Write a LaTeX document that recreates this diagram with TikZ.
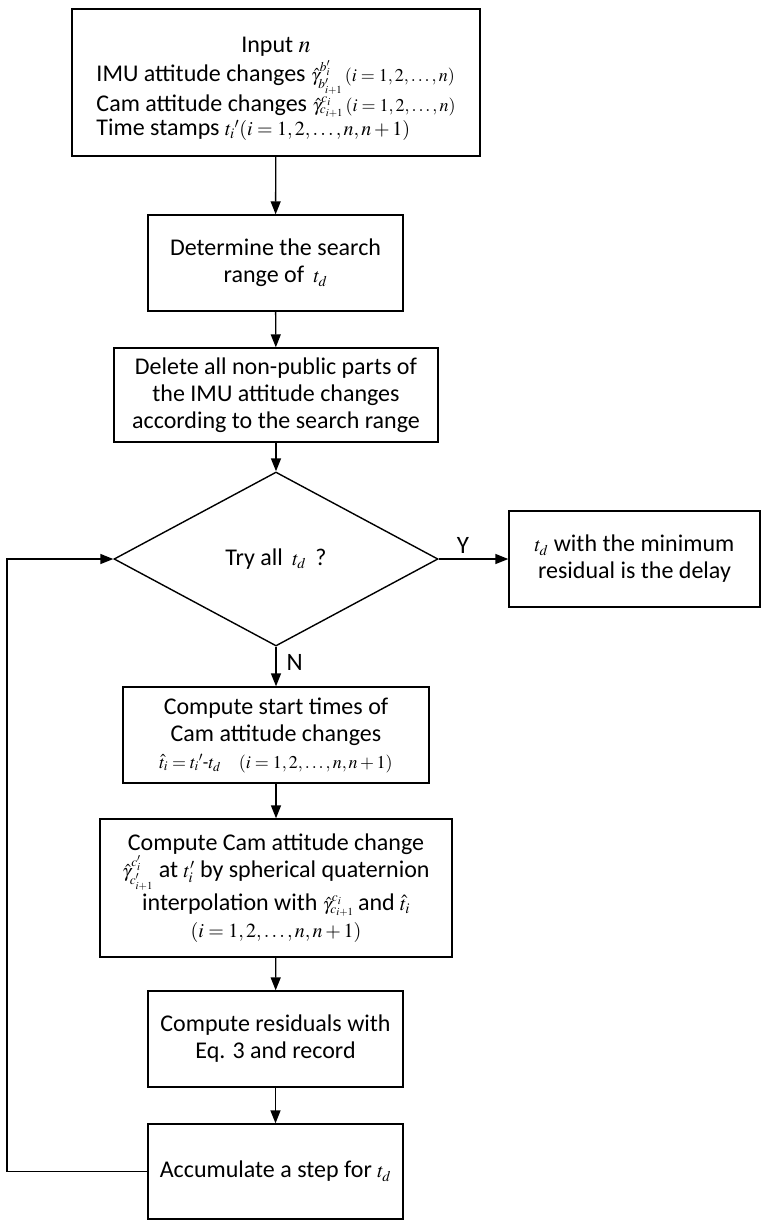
\documentclass[tikz,border=0pt]{standalone}
\usepackage{mathptmx}
\usepackage{fontspec}
\setmainfont{Carlito}
\usetikzlibrary{arrows.meta,shapes.geometric}

\newcommand{\eqsize}{\fontsize{20}{24}\selectfont}
\newcommand{\smeq}{\fontsize{18}{22}\selectfont}

\begin{document}
\begin{tikzpicture}[x=1pt,y=-1pt,line width=1.4pt,
  font=\fontsize{24}{27}\selectfont,
  box/.style={draw,rectangle,align=center,inner sep=0pt},
  flow/.style={-{Triangle[length=13pt,width=10pt]}},
  yn/.style={font=\fontsize{25}{28}\selectfont}]
\useasboundingbox (0,0) rectangle (761,1221);

% main column
\node[box,minimum width=408pt,minimum height=147pt] (input) at (276,82.5)
  {\raisebox{-7pt}[\height][\depth]{\renewcommand{\arraystretch}{0.9}%
   \begin{tabular}{@{}l@{}}
   \multicolumn{1}{c}{Input $n$}\\
   IMU attitude changes {\smeq$\hat{\gamma}^{b'_i}_{b'_{i+1}}\,(i=1,2,\ldots,n)$}\\[2pt]
   Cam attitude changes {\smeq$\hat{\gamma}^{c_i}_{c_{i+1}}\,(i=1,2,\ldots,n)$}\\
   Time stamps {\eqsize${t_i}'(i=1,2,\ldots,n,n+1)$}
   \end{tabular}}};
\node[box,minimum width=255pt,minimum height=96pt] (range) at (275.5,263)
  {Determine the search\\range of \,{\eqsize$t_d$}};
\node[box,minimum width=324pt,minimum height=94pt] (delete) at (276,395)
  {Delete all non-public parts of\\the IMU attitude changes\\according to the search range};
\node[draw,diamond,aspect=1.86,inner sep=0pt,minimum width=324pt,minimum height=174pt] (try) at (276,559)
  {Try all \,{\eqsize$t_d$}\, ?};
\node[box,minimum width=251pt,minimum height=96pt] (result) at (634.5,559)
  {{\eqsize$t_d$} with the minimum\\residual is the delay};
\node[box,minimum width=306pt,minimum height=96pt] (start) at (276,735)
  {Compute start times of\\Cam attitude changes\\{\smeq$\hat{t}_i={t_i}'$-$t_d\quad(i=1,2,\ldots,n,n+1)$}};
\node[box,minimum width=352pt,minimum height=138pt] (interp) at (276,888)
  {Compute Cam attitude change\\
   {\smeq$\hat{\gamma}^{c'_i}_{c'_{i+1}}$} at {\eqsize$t'_i$} by spherical quaternion\\[3pt]
   interpolation with {\smeq$\hat{\gamma}^{c_i}_{c_{i+1}}$}\,and {\eqsize$\hat{t}_i$}\\
   {\eqsize$(i=1,2,\ldots,n,n+1)$}};
\node[box,minimum width=255pt,minimum height=96pt] (resid) at (275.5,1039)
  {Compute residuals with\\Eq. 3 and record};
\node[box,minimum width=255pt,minimum height=95pt] (accum) at (275.5,1171.5)
  {Accumulate a step for {\eqsize$t_d$}};

\coordinate (back) at (7,0);

% connectors
\draw[flow] (input) -- (range);
\draw[flow] (range) -- (delete);
\draw[flow] (delete) -- (try);
\draw[flow] (try.east) -- node[yn,above,pos=0.35,inner sep=5pt]{Y} (try.east -| result.west);
\draw[flow] (try.south) -- node[yn,right,inner sep=10pt,pos=0.4]{N} (start);
\draw[flow] (start) -- (interp);
\draw[flow] (interp) -- (resid);
\draw[flow] (resid) -- (accum);
\draw[flow] (accum.west) -- (accum.west -| back) |- (try.west);

\end{tikzpicture}
\end{document}
